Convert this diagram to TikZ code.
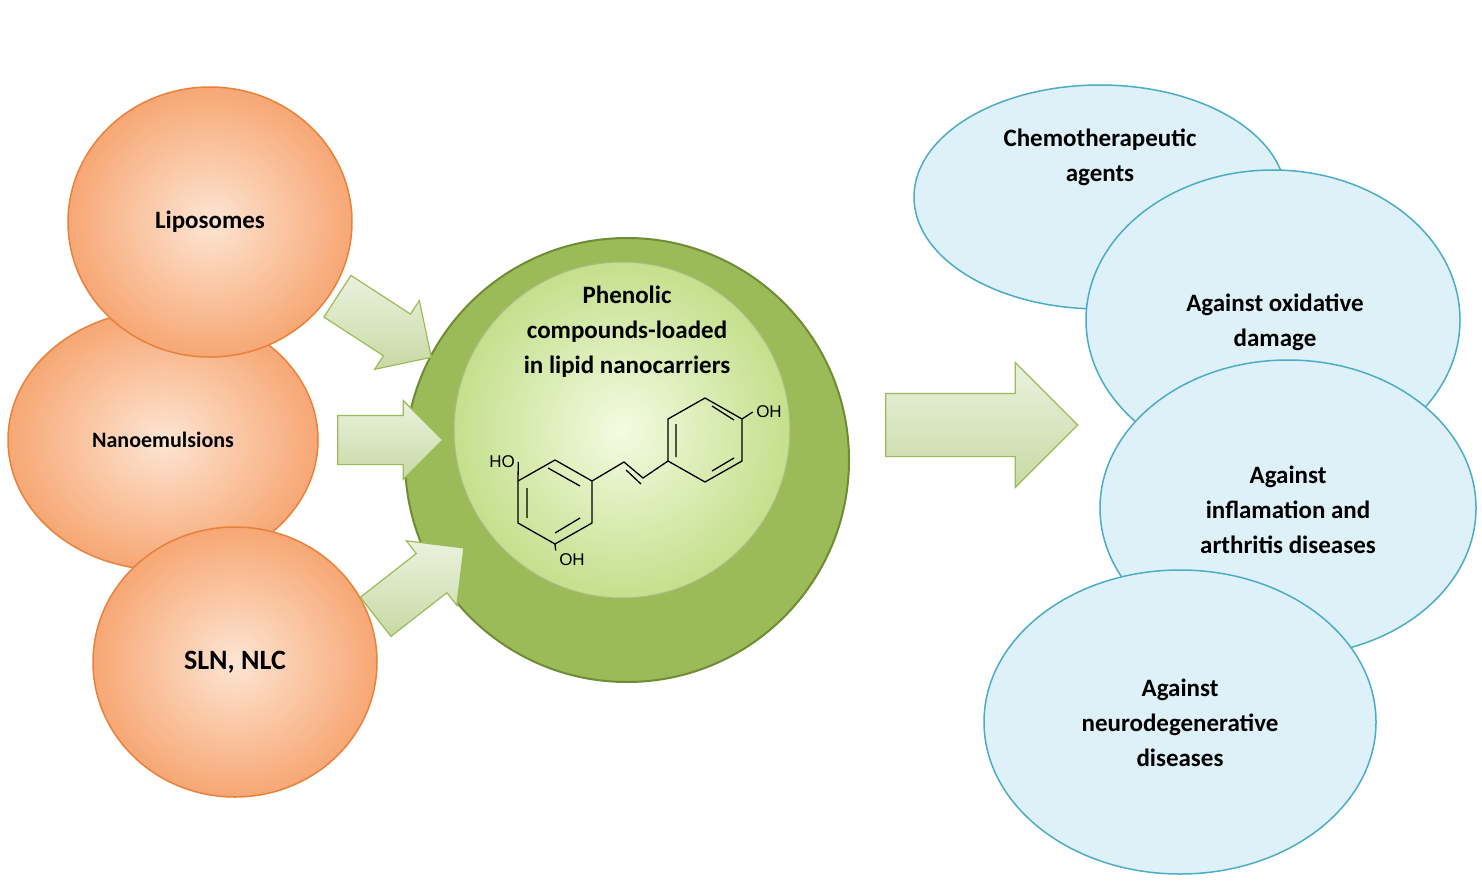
\documentclass[tikz,border=0pt]{standalone}
\usepackage{fontspec}
\setmainfont{Carlito}
\newfontfamily\chem{Liberation Sans}
\usetikzlibrary{shapes.geometric,shapes.arrows}
\definecolor{orb}{HTML}{E8823A}
\definecolor{oin}{HTML}{FDE5D3}
\definecolor{oout}{HTML}{F7A774}
\definecolor{gring}{HTML}{9BBB59}
\definecolor{gedge}{HTML}{6F8C34}
\definecolor{blf}{HTML}{DEF0F8}
\definecolor{blb}{HTML}{4BACC6}
\definecolor{gin}{HTML}{F4FBE2}
\definecolor{gout}{HTML}{C4DF8C}
\tikzset{
 orange/.style={ellipse,draw=orb,line width=1.5pt,inner color=oin,outer color=oout,font=\bfseries\fontsize{25}{35}\selectfont,align=center},
 blue/.style={ellipse,draw=blb,line width=1.5pt,fill=blf},
 btext/.style={font=\bfseries\fontsize{25}{35}\selectfont,align=center},
 garrow/.style={single arrow,draw=gring,line width=1.2pt,top color=white!80!gring,bottom color=white!45!gring,shading angle=0,inner xsep=0pt},
 bond/.style={line width=1.3pt}
}
\begin{document}
\begin{tikzpicture}[x=1pt,y=-1pt]
\useasboundingbox (0,0) rectangle (1482,886);
% orange
\node[orange,minimum width=310pt,minimum height=260pt] (nano) at (163,440) {\fontsize{22}{30}\selectfont Nanoemulsions};
\node[orange,minimum width=284pt,minimum height=270pt] (lipo) at (210,222) {Liposomes};
\node[orange,minimum width=284pt,minimum height=270pt] (sln) at (235,662) {\fontsize{28}{35}\selectfont SLN, NLC};
% green
\node[circle,draw=gedge,line width=2pt,fill=gring,minimum size=444pt] (ring) at (627,460) {};
\node[circle,draw=gedge!60,line width=1pt,inner color=gin,outer color=gout,minimum size=336pt] (core) at (622,430) {};
\node[btext] (title) at (627,332) {Phenolic\\compounds-loaded\\in lipid nanocarriers};
% arrows
\node[garrow,minimum height=112pt,minimum width=82pt,inner ysep=24pt,single arrow head extend=16pt,rotate=-33] (a1) at (374,320) {};
\node[garrow,minimum height=105pt,minimum width=78pt,inner ysep=24pt,single arrow head extend=15pt] (a2) at (378,440) {};
\node[garrow,minimum height=112pt,minimum width=82pt,inner ysep=24pt,single arrow head extend=16pt,rotate=38] (a3) at (410,590) {};
\node[garrow,minimum height=192pt,minimum width=125pt,inner ysep=31pt,single arrow head extend=31pt] (big) at (966,425) {};
% blue
\node[blue,minimum width=372pt,minimum height=224pt] (chemo) at (1100,197) {};
\node[btext] at (1100,157) {Chemotherapeutic\\agents};
\node[blue,minimum width=374pt,minimum height=300pt] (oxi) at (1273,320) {};
\node[btext] at (1275,322) {Against oxidative\\damage};
\node[blue,minimum width=376pt,minimum height=296pt] (infl) at (1288,508) {};
\node[btext] at (1288,510) {Against\\inflamation and\\arthritis diseases};
\node[blue,minimum width=392pt,minimum height=304pt] (neuro) at (1180,722) {};
\node[btext] at (1180,723) {Against\\neurodegenerative\\diseases};
% resveratrol
\coordinate (A1) at (555,460); \coordinate (A2) at (592,481); \coordinate (A3) at (592,523);
\coordinate (A4) at (555,544); \coordinate (A5) at (518,523); \coordinate (A6) at (518,481);
\coordinate (B1) at (705,398); \coordinate (B2) at (742,419); \coordinate (B3) at (742,461);
\coordinate (B4) at (705,482); \coordinate (B5) at (668,461); \coordinate (B6) at (668,419);
\draw[bond] (A1)--(A2)--(A3)--(A4)--(A5)--(A6)--cycle;
\draw[bond] (B1)--(B2)--(B3)--(B4)--(B5)--(B6)--cycle;
\draw[bond] (548,468)--(580,486) (580,518)--(555,533) (527,518)--(527,488);
\draw[bond] (712,406)--(734,420) (734,458)--(712,471) (676,457)--(676,424);
\draw[bond] (A2)--(624,462)--(643,478)--(B5);
\draw[bond] (626,470)--(641,484);
\node[font=\chem\fontsize{17}{20}\selectfont] (ho) at (502,462) {HO};
\node[font=\chem\fontsize{17}{20}\selectfont] (oh1) at (572,560) {OH};
\node[font=\chem\fontsize{17}{20}\selectfont] (oh2) at (769,412) {OH};
\draw[bond] (A6)--(ho.east);
\draw[bond] (A4)--(oh1.north west);
\draw[bond] (B2)--(oh2.west);
\end{tikzpicture}
\end{document}
